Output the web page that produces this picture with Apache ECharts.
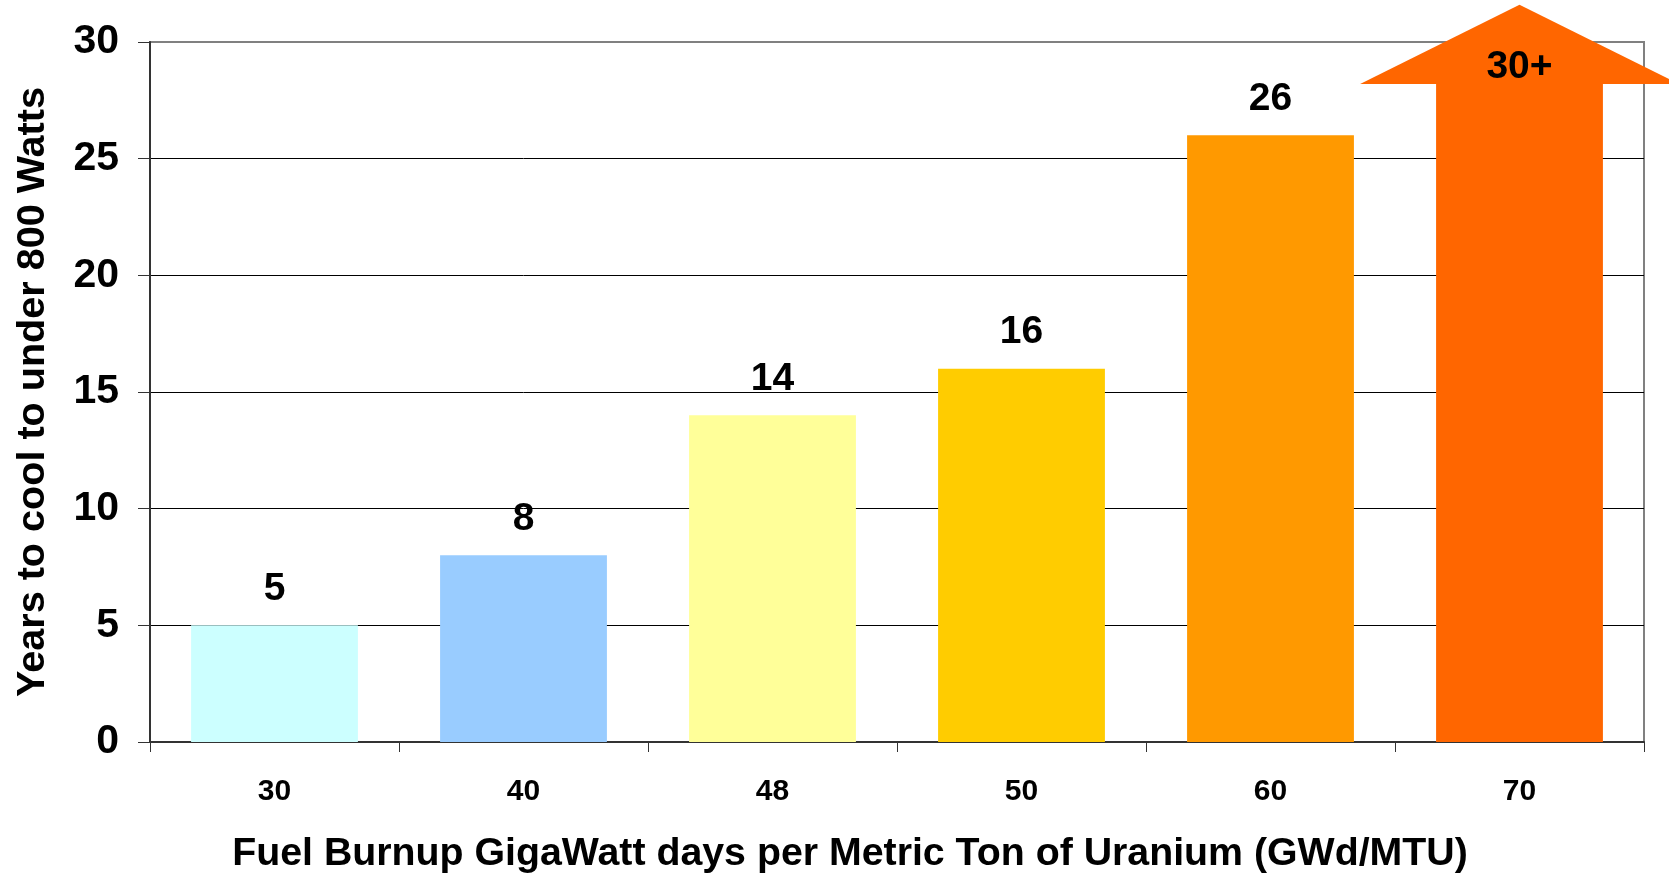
<!DOCTYPE html>
<html>
<head>
<meta charset="utf-8">
<script src="https://cdn.jsdelivr.net/npm/echarts@6/dist/echarts.min.js"></script>
<style>
	html, body {
		margin: 0;
		padding: 0;
		background: #fff;
	}

	#chart {
		width: 1669px;
		height: 876px;
	}
</style>
</head>
<body>
<div id="chart"></div>
<script>
	// 燃耗分类
	var burnup = ['30', '40', '48', '50', '60', '70'];
	// 冷却年数（最后一项为箭头杆顶）
	var years = [5, 8, 14, 16, 26, 28.2];
	// 柱子标签
	var yearLabels = ['5', '8', '14', '16', '26', '30+'];
	// 柱子颜色
	var barColors = ['#CCFFFF', '#99CCFF', '#FFFF99', '#FFCC00', '#FF9900', '#FF6600'];
	// 箭头：杆顶和尖端
	var arrowBase = 28.2;
	var arrowTip = 31.6;
	var arrowIndex = 5;

	var font = '"Liberation Sans", Arial, sans-serif';

	var chart = echarts.init(document.getElementById('chart'));
	var option = {
		backgroundColor: '#fff',
		animation: false,
		grid: {
			left: 150,
			right: 25,
			top: 42,
			bottom: 134,
			outerBoundsMode: 'none',
			containLabel: false,
			show: true,
			borderColor: '#808080',
			borderWidth: 2
		},
		xAxis: {
			type: 'category',
			data: burnup,
			name: 'Fuel Burnup GigaWatt days per Metric Ton of Uranium (GWd/MTU)',
			nameLocation: 'middle',
			nameGap: 93,
			nameTextStyle: {
				fontFamily: font,
				fontWeight: 'bold',
				fontSize: 39.3,
				color: '#000',
				padding: [0, 94, 0, 0]
			},
			axisLine: { lineStyle: { color: '#333', width: 2 } },
			axisTick: { show: true, length: 10, lineStyle: { color: '#333', width: 1 } },
			axisLabel: {
				fontFamily: font,
				fontWeight: 'bold',
				fontSize: 30,
				color: '#000',
				margin: 35
			}
		},
		yAxis: {
			type: 'value',
			min: 0,
			max: 30,
			interval: 5,
			name: 'Years to cool to under 800 Watts',
			nameLocation: 'middle',
			nameGap: 97,
			nameTextStyle: {
				fontFamily: font,
				fontWeight: 'bold',
				fontSize: 39.6,
				color: '#000'
			},
			axisLine: { show: true, lineStyle: { color: '#333', width: 2 } },
			axisTick: { show: true, length: 12, lineStyle: { color: '#333', width: 1 } },
			axisLabel: {
				fontFamily: font,
				fontWeight: 'bold',
				fontSize: 41,
				color: '#000',
				margin: 31
			},
			splitLine: {
				show: true,
				showMaxLine: false,
				lineStyle: { color: '#000', width: 1 }
			}
		},
		series: [
			{
				type: 'bar',
				barWidth: '67%',
				data: years.map(function (v, i) {
					return {
						value: v,
						itemStyle: { color: barColors[i] },
						label: { show: i !== arrowIndex }
					};
				}),
				label: {
					show: true,
					position: 'top',
					distance: 17,
					fontFamily: font,
					fontWeight: 'bold',
					fontSize: 39,
					color: '#000',
					formatter: function (p) {
						return yearLabels[p.dataIndex];
					}
				}
			},
			{
				type: 'custom',
				clip: false,
				z: 5,
				data: [[arrowIndex, arrowBase, arrowTip]],
				renderItem: function (params, api) {
					var base = api.coord([api.value(0), api.value(1)]);
					var tip = api.coord([api.value(0), api.value(2)]);
					var band = api.size([1, 0])[0];
					var half = band * 0.64;
					return {
						type: 'group',
						children: [
							{
								type: 'polygon',
								shape: {
									points: [
										[base[0] - half, base[1]],
										[tip[0], tip[1]],
										[base[0] + half, base[1]]
									]
								},
								style: { fill: barColors[arrowIndex] }
							},
							{
								type: 'text',
								x: base[0],
								y: base[1] - 17,
								style: {
									text: yearLabels[arrowIndex],
									font: 'bold 39px ' + font,
									fill: '#000',
									align: 'center',
									verticalAlign: 'middle'
								}
							}
						]
					};
				}
			}
		]
	};
	chart.setOption(option);
</script>
</body>
</html>
